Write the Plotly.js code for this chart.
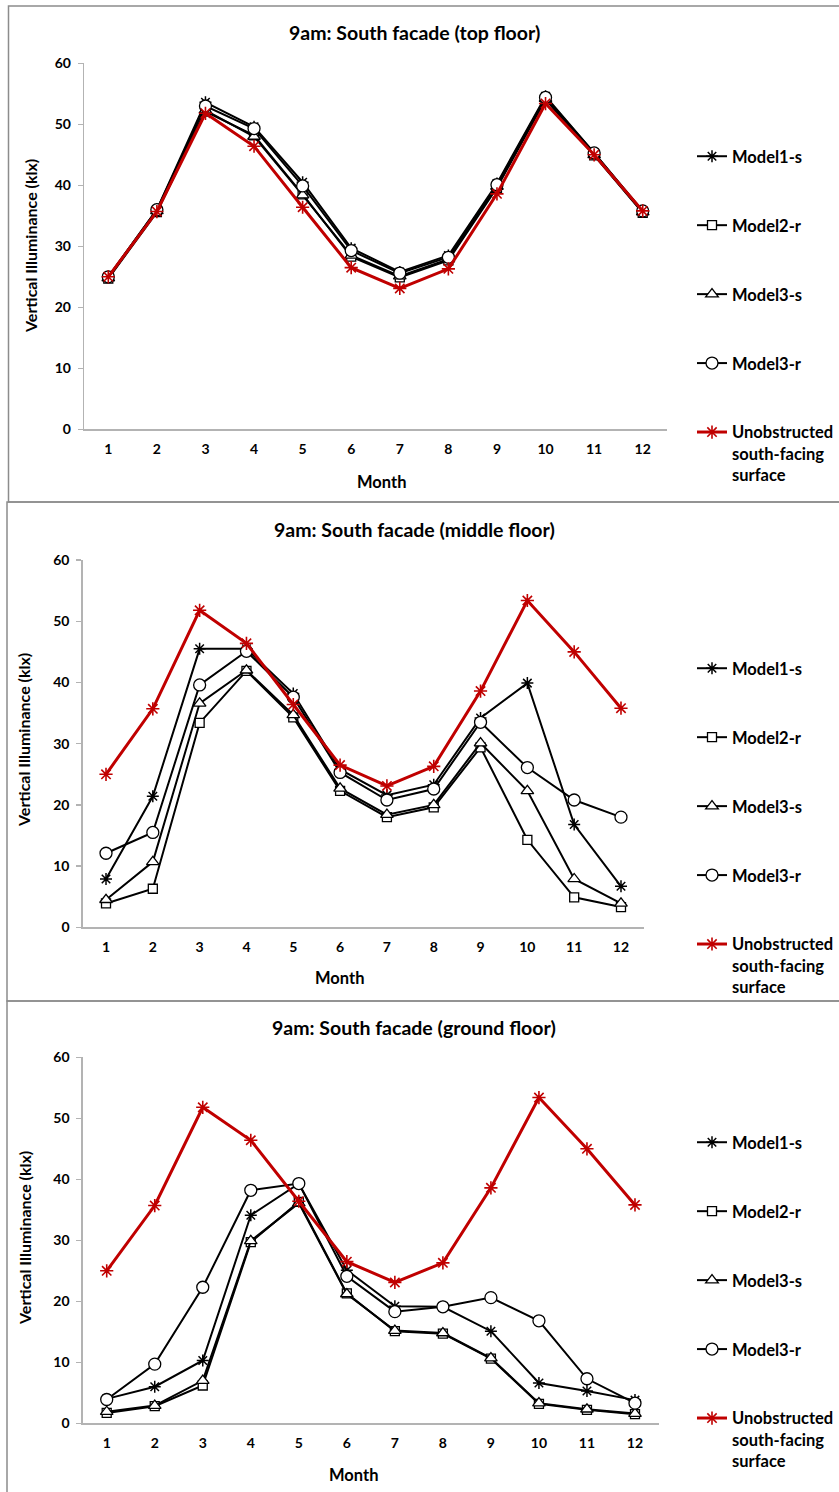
<!DOCTYPE html>
<html>
<head>
<meta charset="utf-8">
<script src="https://cdn.plot.ly/plotly-3.0.1.min.js"></script>
<style>html,body{margin:0;padding:0;background:#fff;}#chart{width:839px;height:1492px;}</style>
</head>
<body>
<div id="chart"></div>
<script>
// ---- data ----
const months = [1,2,3,4,5,6,7,8,9,10,11,12];
const seriesNames = ["Model1-s","Model2-r","Model3-s","Model3-r","Unobstructed<br>south-facing<br>surface"];
const panelTitles = ["9am: South facade (top floor)","9am: South facade (middle floor)","9am: South facade (ground floor)"];
const yTicks = [0,10,20,30,40,50,60];

const unobstructed = [25.0, 35.7, 51.8, 46.4, 36.4, 26.5, 23.1, 26.3, 38.6, 53.4, 45.0, 35.8];

const m1sTop = [25.0, 36.0, 53.6, 49.6, 40.5, 29.7, 25.8, 28.5, 40.3, 54.6, 45.3, 35.7];
const m2rTop = [24.7, 35.6, 52.1, 48.2, 38.5, 28.3, 24.9, 27.7, 39.6, 54.1, 44.9, 35.5];
const m3sTop = [24.8, 35.8, 52.3, 48.0, 38.4, 28.5, 25.1, 27.9, 39.8, 54.2, 45.0, 35.6];
const m3rTop = [25.0, 36.0, 53.0, 49.3, 39.9, 29.3, 25.6, 28.2, 40.1, 54.4, 45.3, 35.8];

const m1sMid = [7.9, 21.4, 45.5, 45.5, 38.2, 25.8, 21.6, 23.3, 34.2, 39.9, 16.8, 6.7];
const m2rMid = [3.9, 6.3, 33.4, 41.9, 34.3, 22.3, 18.0, 19.6, 29.4, 14.3, 4.9, 3.3];
const m3sMid = [4.5, 10.7, 36.6, 42.0, 34.7, 22.7, 18.4, 20.0, 30.1, 22.3, 7.9, 3.9];
const m3rMid = [12.1, 15.5, 39.6, 45.1, 37.6, 25.3, 20.8, 22.6, 33.5, 26.1, 20.8, 18.0];

const m1sGnd = [4.0, 6.0, 10.3, 34.1, 39.3, 25.1, 19.2, 19.1, 15.1, 6.6, 5.3, 3.8];
const m2rGnd = [1.7, 2.8, 6.2, 29.7, 36.3, 21.3, 15.1, 14.7, 10.6, 3.2, 2.2, 1.5];
const m3sGnd = [1.9, 2.9, 7.0, 29.9, 36.1, 21.2, 15.2, 14.8, 10.7, 3.3, 2.3, 1.6];
const m3rGnd = [3.9, 9.7, 22.3, 38.2, 39.3, 24.1, 18.3, 19.1, 20.6, 16.8, 7.3, 3.3];

const panels = [
  [m1sTop, m2rTop, m3sTop, m3rTop, unobstructed],
  [m1sMid, m2rMid, m3sMid, m3rMid, unobstructed],
  [m1sGnd, m2rGnd, m3sGnd, m3rGnd, unobstructed]
];

// ---- styling ----
const W = 839, H = 1492;
const FONT = 'Lato, "Open Sans", sans-serif';
const px = v => v / W;
const py = v => 1 - v / H;

const markerStyles = [
  {symbol:'asterisk-open', size:10, color:'black', line:{color:'black', width:1.5}},
  {symbol:'square', size:9, color:'white', line:{color:'black', width:1.3}},
  {symbol:'triangle-up', size:11, color:'white', line:{color:'black', width:1.3}},
  {symbol:'circle', size:12, color:'white', line:{color:'black', width:1.3}},
  {symbol:'asterisk-open', size:11, color:'#c00000', line:{color:'#c00000', width:1.6}}
];
const lineStyles = [
  {color:'black', width:2},
  {color:'black', width:2},
  {color:'black', width:2},
  {color:'black', width:2},
  {color:'#c00000', width:3}
];

// plot areas (pixels)
const areas = [
  {x0:84, x1:667, y0:63.3, y1:429.3, title:[414,33], month:[381,482], ytitle:[30,246], legend:[692,139]},
  {x0:82.6, x1:644.4, y0:560.1, y1:927.3, title:[414,529], month:[339,978], ytitle:[23,740], legend:[692,651]},
  {x0:82.7, x1:659, y0:1057.3, y1:1423.3, title:[414,1027], month:[353,1475], ytitle:[24,1238], legend:[692,1125]}
];
const borders = [
  {x0:8.5, x1:840, y0:6, y1:502},
  {x0:7, x1:840, y0:502, y1:1001},
  {x0:7, x1:840, y0:1001, y1:1493}
];

const traces = [];
panels.forEach((series, p) => {
  const sfx = p === 0 ? '' : String(p + 1);
  series.forEach((vals, s) => {
    traces.push({
      type:'scatter', mode:'lines+markers',
      x: months, y: vals,
      name: seriesNames[s],
      xaxis: 'x' + sfx, yaxis: 'y' + sfx,
      legend: 'legend' + sfx,
      legendgroup: 'g' + p + '_' + s,
      line: lineStyles[s],
      marker: markerStyles[s],
      cliponaxis: false
    });
  });
});

const layout = {
  width: W, height: H,
  margin: {l:0, r:0, t:0, b:0},
  paper_bgcolor: 'white', plot_bgcolor: 'white',
  font: {family: FONT, color: 'black', size: 14, weight: 'bold'},
  showlegend: true,
  annotations: [],
  shapes: []
};

areas.forEach((a, p) => {
  const sfx = p === 0 ? '' : String(p + 1);
  layout['xaxis' + sfx] = {
    domain: [px(a.x0), px(a.x1)],
    anchor: 'y' + sfx,
    range: [0.5, 12.5],
    tickvals: months, ticktext: months.map(String),
    showgrid: false, zeroline: false,
    showline: true, linecolor: '#b3b3b3', linewidth: 1.3,
    ticks: '', ticklabelstandoff: 7,
    tickfont: {family: FONT, size: 14, color: 'black', weight: 'bold'},
    fixedrange: true
  };
  layout['yaxis' + sfx] = {
    domain: [py(a.y1), py(a.y0)],
    anchor: 'x' + sfx,
    range: [0, 60],
    tickvals: yTicks,
    showgrid: false, zeroline: false,
    showline: true, linecolor: '#b3b3b3', linewidth: 1.3,
    ticks: 'outside', ticklen: 5, tickcolor: '#b3b3b3', tickwidth: 1.3,
    ticklabelstandoff: 4,
    tickfont: {family: FONT, size: 14, color: 'black', weight: 'bold'},
    fixedrange: true
  };
  layout['legend' + sfx] = {
    x: px(a.legend[0]), y: py(a.legend[1]),
    xanchor: 'left', yanchor: 'top',
    xref: 'paper', yref: 'paper',
    bgcolor: 'rgba(0,0,0,0)',
    borderwidth: 0,
    tracegroupgap: 44.5,
    valign: 'top',
    itemwidth: 30,
    font: {family: FONT, size: 16.5, color: 'black', weight: 'bold'}
  };
  layout.annotations.push({
    text: panelTitles[p], x: px(a.title[0]), y: py(a.title[1]),
    xref:'paper', yref:'paper', xanchor:'center', yanchor:'middle', showarrow:false,
    font: {family: FONT, size: 19.5, color:'black', weight:'bold'}
  });
  layout.annotations.push({
    text: 'Month', x: px(a.month[0]), y: py(a.month[1]),
    xref:'paper', yref:'paper', xanchor:'center', yanchor:'middle', showarrow:false,
    font: {family: FONT, size: 16.5, color:'black', weight:'bold'}
  });
  layout.annotations.push({
    text: 'Vertical Illuminance (klx)', x: px(a.ytitle[0]), y: py(a.ytitle[1]),
    xref:'paper', yref:'paper', xanchor:'center', yanchor:'middle', showarrow:false,
    textangle: -90,
    font: {family: FONT, size: 16, color:'black', weight:'bold'}
  });
});

borders.forEach(b => {
  layout.shapes.push({
    type:'rect', xref:'paper', yref:'paper',
    x0: px(b.x0), x1: px(b.x1), y0: py(b.y1), y1: py(b.y0),
    line: {color:'#8c8c8c', width:1.5}, fillcolor:'rgba(0,0,0,0)', layer:'below'
  });
});

Plotly.newPlot('chart', traces, layout, {staticPlot: true, displayModeBar: false});
</script>
</body>
</html>
